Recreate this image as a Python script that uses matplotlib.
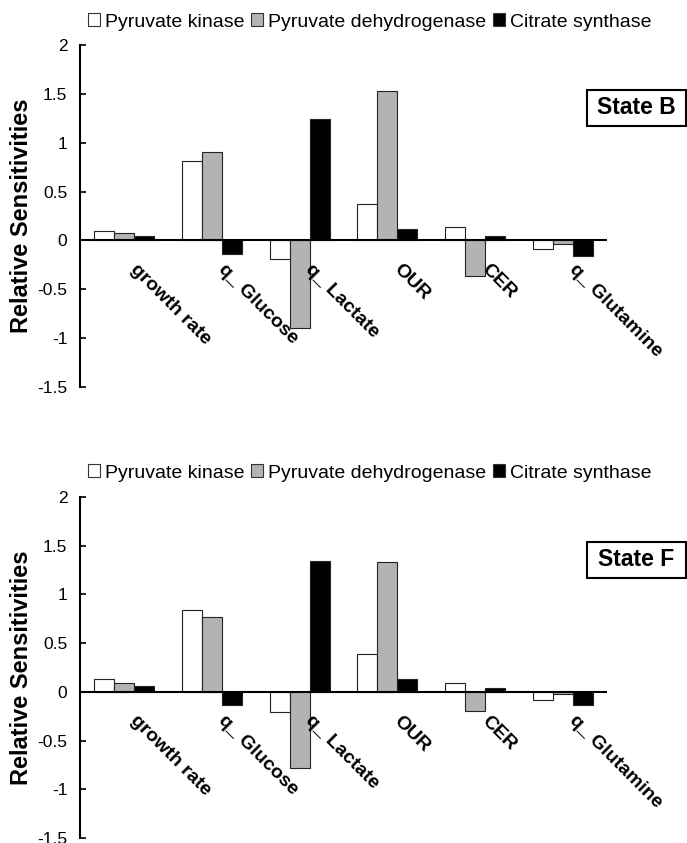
import matplotlib
matplotlib.use("Agg")
import matplotlib.pyplot as plt
from matplotlib.patches import Rectangle, Patch
import numpy as np

plt.rcParams['font.family'] = ['Liberation Sans', 'DejaVu Sans']

categories = ["growth rate", "q_ Glucose", "q_ Lactate", "OUR", "CER", "q_ Glutamine"]
series_names = ["Pyruvate kinase", "Pyruvate dehydrogenase", "Citrate synthase"]
series_colors = ["white", "#b3b3b3", "black"]

state_b_pk = [0.10, 0.81, -0.195, 0.37, 0.14, -0.09]
state_b_pdh = [0.08, 0.90, -0.90, 1.53, -0.36, -0.04]
state_b_cs = [0.05, -0.14, 1.24, 0.12, 0.05, -0.16]

state_f_pk = [0.13, 0.84, -0.21, 0.39, 0.09, -0.08]
state_f_pdh = [0.09, 0.77, -0.78, 1.335, -0.20, -0.025]
state_f_cs = [0.065, -0.14, 1.34, 0.136, 0.037, -0.14]

yticks = [-1.5, -1, -0.5, 0, 0.5, 1, 1.5, 2]
ytick_labels = ["-1.5", "-1", "-0.5", "0", "0.5", "1", "1.5", "2"]

W, H = 687, 843
fig = plt.figure(figsize=(W / 100, H / 100), dpi=100)


def px(x0, y_top, x1, y_bot):
    return [x0 / W, 1 - y_bot / H, (x1 - x0) / W, (y_bot - y_top) / H]


def panel(rect, series, state, legend_y, box_top):
    ax = fig.add_axes(rect)
    x = np.arange(len(categories))
    bw = 0.228
    for k, (vals, col) in enumerate(zip(series, series_colors)):
        ax.bar(x + (k - 1) * bw, vals, width=bw, color=col,
               edgecolor="#222222", linewidth=0.8, zorder=2)
    ax.axhline(0, color="black", lw=1.5, zorder=3)
    ax.set_xlim(-0.5, len(categories) - 0.5)
    ax.set_ylim(-1.5, 2)
    for s in ["top", "right", "bottom"]:
        ax.spines[s].set_visible(False)
    ax.spines["left"].set_linewidth(1.5)
    ax.set_xticks([])
    ax.set_yticks(yticks)
    ax.set_yticklabels(ytick_labels)
    ax.tick_params(axis="y", direction="in", length=4, width=1.2,
                   labelsize=12.5, pad=9)
    for i, c in enumerate(categories):
        ax.text(i + 0.17, -0.21, c, rotation=-45, rotation_mode="anchor",
                ha="left", va="top", fontsize=14, fontweight="bold")
    # y label
    y0 = rect[1] + rect[3] / 2
    fig.text(22 / W, y0, "Relative Sensitivities", rotation=90,
             ha="center", va="center", fontsize=17, fontweight="bold")
    # legend
    handles = [Patch(facecolor=c, edgecolor="#333333", linewidth=0.8)
               for c in series_colors]
    fig.legend(handles, series_names, loc="center left",
               bbox_to_anchor=(88 / W, 1 - legend_y / H), ncol=3,
               frameon=False, fontsize=14, handlelength=0.62,
               handleheight=0.62, handletextpad=0.25, columnspacing=0.35,
               borderpad=0, borderaxespad=0)
    # state box
    bx0, bx1 = 587, 686
    by0, by1 = box_top, box_top + 36
    fig.patches.append(Rectangle((bx0 / W, 1 - by1 / H), (bx1 - bx0) / W,
                                 (by1 - by0) / H, transform=fig.transFigure,
                                 facecolor="white", edgecolor="black",
                                 linewidth=1.5))
    fig.text((bx0 + bx1) / 2 / W, 1 - (by0 + by1) / 2 / H, state,
             ha="center", va="center", fontsize=16.5, fontweight="bold")
    return ax


panel(px(80, 45, 607, 387), [state_b_pk, state_b_pdh, state_b_cs],
      "State B", 22, 90)
panel(px(80, 497, 607, 838), [state_f_pk, state_f_pdh, state_f_cs],
      "State F", 473, 542)

fig.savefig("out.png", dpi=100)
